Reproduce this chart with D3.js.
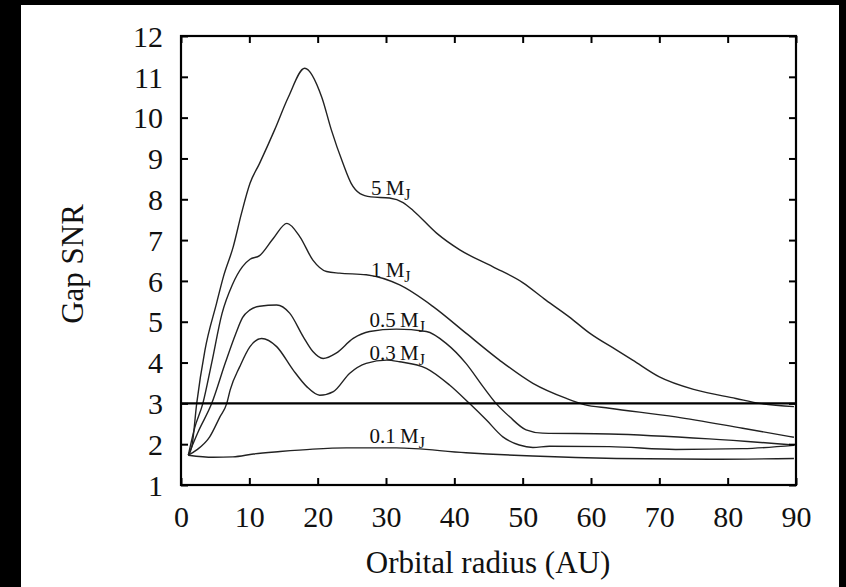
<!DOCTYPE html>
<html>
<head>
<meta charset="utf-8">
<script src="https://cdn.jsdelivr.net/npm/d3@7"></script>
<style>
  html, body { margin: 0; padding: 0; background: #000; }
  svg { display: block; }
  text { font-family: "Liberation Serif", "Times New Roman", serif; fill: #111; }
</style>
</head>
<body>
<svg id="chart" width="846" height="587"></svg>
<script>
// Gap SNR vs orbital radius, one series per planet mass
const m5 = [[1.07,1.73],[1.6,1.95],[2.3,3.0],[3.5,4.3],[5.2,5.45],[6.2,6.1],[7.65,6.84],[8.86,7.66],[10.1,8.39],[11.5,8.88],[13.7,9.7],[15.7,10.5],[18.1,11.21],[20.6,10.5],[22.0,9.7],[23.7,8.88],[24.9,8.39],[26.2,8.14],[27.8,8.06],[30.5,8.03],[32.5,7.92],[34.0,7.72],[37.4,7.17],[40.8,6.76],[45.6,6.35],[50.0,5.96],[53.4,5.53],[56.8,5.12],[59.8,4.72],[63.7,4.31],[66.1,4.06],[70,3.65],[75.3,3.33],[81.2,3.12],[84.6,3.0],[89.7,2.92]];
const m1 = [[1.07,1.73],[2.0,2.4],[3.2,3.0],[4.5,4.0],[6.0,5.2],[7.5,5.9],[9.0,6.35],[10.1,6.53],[11.5,6.62],[13.5,7.04],[15.5,7.41],[17.4,7.08],[19.3,6.51],[21.3,6.23],[23.2,6.19],[27.1,6.15],[32.0,5.9],[36.9,5.37],[41.7,4.72],[46.6,4.06],[51.5,3.49],[56.4,3.12],[59.0,2.97],[62.7,2.88],[72.4,2.67],[82.2,2.39],[89.7,2.17]];
const m05 = [[1.07,1.73],[2.5,2.3],[4.5,3.0],[6.5,4.0],[8.0,4.7],[9.0,5.1],[10.1,5.29],[11.5,5.38],[14.0,5.41],[15.9,5.21],[17.9,4.63],[19.3,4.27],[20.8,4.1],[22.7,4.23],[25.2,4.59],[27.6,4.76],[31.5,4.82],[35.9,4.76],[38.8,4.47],[41.7,3.98],[44.2,3.41],[46.1,3.0],[48.1,2.67],[50.5,2.35],[52.9,2.27],[62.7,2.25],[77.3,2.13],[89.7,1.98]];
const m03 = [[1.07,1.73],[2.3,1.86],[4.2,2.18],[5.7,2.67],[6.7,3.0],[7.2,3.33],[8.6,3.9],[10.1,4.39],[11.8,4.59],[14.0,4.39],[16.4,3.82],[18.4,3.41],[20.3,3.2],[22.3,3.29],[24.7,3.74],[27.1,3.98],[30.1,4.06],[32,4.02],[35.9,3.86],[39.3,3.45],[42.2,3.0],[44.7,2.59],[47.1,2.18],[49.5,1.98],[51.5,1.92],[53.9,1.95],[62.7,1.94],[72.4,1.87],[82.2,1.89],[89.7,1.97]];
const m01 = [[1.07,1.73],[4.7,1.68],[7.6,1.69],[10.6,1.76],[14.5,1.82],[19.3,1.88],[24.2,1.91],[31.5,1.91],[41.7,1.79],[51.5,1.71],[63.7,1.65],[77.3,1.63],[89.7,1.65]];

const seriesList = [m5, m1, m05, m03, m01];
const labelMass = ["5", "1", "0.5", "0.3", "0.1"];
const labelX = [27.8, 27.8, 27.6, 27.6, 27.6];
const labelY = [8.1, 6.1, 4.88, 4.07, 2.03];

const threshold = 3;
const xTicks = d3.range(0, 91, 10);
const yTicks = d3.range(1, 13);

const svg = d3.select('#chart');

// white page with the black border left/top/right
svg.append('rect')
  .attr('x', 21).attr('y', 5)
  .attr('width', 818).attr('height', 582)
  .attr('fill', '#fff');

const x = d3.scaleLinear().domain([0, 90]).range([181, 796]);
const y = d3.scaleLinear().domain([1, 12]).range([485, 36]);

const line = d3.line()
  .x(d => x(d[0]))
  .y(d => y(d[1]))
  .curve(d3.curveMonotoneX);

svg.append('g')
  .selectAll('path')
  .data(seriesList)
  .join('path')
  .attr('d', line)
  .attr('fill', 'none')
  .attr('stroke', '#222')
  .attr('stroke-width', 1.4);

// SNR = 3 detection threshold
svg.append('line')
  .attr('x1', x(0)).attr('x2', x(90))
  .attr('y1', y(threshold)).attr('y2', y(threshold))
  .attr('stroke', '#000')
  .attr('stroke-width', 2.4);

// axes, ticks pointing inward
const axisStyle = (g) => {
  g.select('.domain').remove();
  g.selectAll('.tick line').attr('stroke', '#000').attr('stroke-width', 2);
  g.selectAll('.tick text')
    .attr('fill', '#111')
    .style('font-size', '30px')
    .style('font-family', '"Liberation Serif", serif');
};

svg.append('g')
  .attr('transform', `translate(0,${y(1)})`)
  .call(d3.axisBottom(x).tickValues(xTicks).tickSize(-7).tickPadding(21))
  .call(axisStyle);
svg.append('g')
  .attr('transform', `translate(0,${y(12)})`)
  .call(d3.axisTop(x).tickValues(xTicks).tickSize(-7).tickFormat(''))
  .call(axisStyle);
svg.append('g')
  .attr('transform', `translate(${x(0)},0)`)
  .call(d3.axisLeft(y).tickValues(yTicks).tickSize(-7).tickPadding(18))
  .call(axisStyle)
  .selectAll('.tick text').attr('dy', '0.34em');
svg.append('g')
  .attr('transform', `translate(${x(90)},0)`)
  .call(d3.axisRight(y).tickValues(yTicks).tickSize(-7).tickFormat(''))
  .call(axisStyle);

// frame
svg.append('rect')
  .attr('x', x(0)).attr('y', y(12))
  .attr('width', x(90) - x(0)).attr('height', y(1) - y(12))
  .attr('fill', 'none')
  .attr('stroke', '#000')
  .attr('stroke-width', 2.2);

// curve labels
const labels = svg.append('g')
  .selectAll('text')
  .data(labelMass)
  .join('text')
  .attr('x', (d, i) => x(labelX[i]))
  .attr('y', (d, i) => y(labelY[i]))
  .style('font-size', '21px');
labels.append('tspan').text(d => d + '\u2009M');
labels.append('tspan').attr('dy', 5).style('font-size', '16px').text('J');

// axis titles
svg.append('text')
  .attr('x', 488).attr('y', 573)
  .attr('text-anchor', 'middle')
  .style('font-size', '31px')
  .text('Orbital radius (AU)');

svg.append('text')
  .attr('transform', 'translate(83,264) rotate(-90)')
  .attr('text-anchor', 'middle')
  .style('font-size', '31px')
  .text('Gap SNR');
</script>
</body>
</html>
